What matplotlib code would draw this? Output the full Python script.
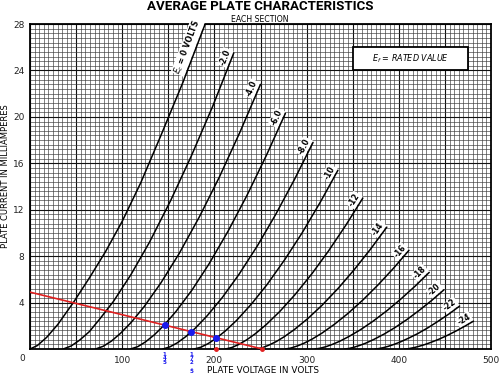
import matplotlib
matplotlib.use("Agg")
import matplotlib.pyplot as plt
from matplotlib.ticker import MultipleLocator, FuncFormatter
from matplotlib.patches import Rectangle
import numpy as np

# ---- data (plate volts, plate mA) ----
grid_labels = ["$E_c$ = 0 VOLTS", "-2.0", "-4.0", "-6.0", "-8.0", "-10", "-12",
               "-14", "-16", "-18", "-20", "-22", "-24"]

v_ec0 = [0, 8, 18, 30, 47, 65, 82, 100, 120, 142, 166, 190]
i_ec0 = [0, 0.3, 1.0, 2.1, 4.0, 6.2, 8.4, 11.0, 14.3, 18.4, 23.0, 28.0]

v_m2 = [36, 44.6, 53.9, 64.4, 75.8, 90.5, 109.4, 129.6, 152.6, 174.8, 198.1, 221]
i_m2 = [0, 0.26, 0.77, 1.5, 2.6, 4.1, 6.4, 9.2, 12.8, 16.6, 20.9, 25.5]

v_m4 = [71, 79.3, 88.3, 98.4, 109.6, 123.8, 142.0, 161.6, 183.8, 205.3, 227.8, 250]
i_m4 = [0, 0.23, 0.68, 1.37, 2.28, 3.65, 5.7, 8.2, 11.4, 14.8, 18.7, 22.8]

v_m6 = [109, 116.8, 125.2, 134.8, 145.2, 158.5, 175.7, 194.0, 214.8, 235.1, 256.2, 277]
i_m6 = [0, 0.2, 0.61, 1.22, 2.03, 3.25, 5.08, 7.31, 10.15, 13.2, 16.65, 20.3]

v_m8 = [144, 151.6, 159.7, 169.0, 179.1, 192.0, 208.7, 226.5, 246.7, 266.3, 286.8, 307]
i_m8 = [0, 0.18, 0.53, 1.07, 1.78, 2.85, 4.45, 6.41, 8.9, 11.57, 14.6, 17.8]

v_m10 = [178, 185.2, 193.1, 201.9, 211.6, 224.0, 239.9, 257.0, 276.3, 295.1, 314.7, 334]
i_m10 = [0, 0.15, 0.46, 0.92, 1.54, 2.46, 3.85, 5.54, 7.7, 10.0, 12.63, 15.4]

v_m12 = [212, 218.9, 226.4, 234.8, 244.1, 255.9, 271.1, 287.4, 305.9, 323.8, 342.5, 361]
i_m12 = [0, 0.13, 0.39, 0.78, 1.3, 2.08, 3.25, 4.68, 6.5, 8.45, 10.66, 13.0]

v_m14 = [245, 251.6, 258.7, 266.8, 275.6, 286.8, 301.4, 316.9, 334.5, 351.6, 369.4, 387]
i_m14 = [0, 0.1, 0.32, 0.63, 1.05, 1.68, 2.63, 3.78, 5.25, 6.83, 8.61, 10.5]

v_m16 = [277, 283.2, 289.9, 297.5, 305.9, 316.5, 330.2, 344.8, 361.4, 377.6, 394.4, 411]
i_m16 = [0, 0.09, 0.26, 0.51, 0.85, 1.36, 2.13, 3.06, 4.25, 5.53, 6.97, 8.5]

v_m18 = [309, 314.8, 321.0, 328.0, 335.7, 345.5, 358.2, 371.8, 387.1, 402.0, 417.6, 433]
i_m18 = [0, 0.07, 0.2, 0.4, 0.66, 1.06, 1.65, 2.38, 3.3, 4.29, 5.41, 6.6]

v_m20 = [341, 346.0, 351.4, 357.6, 364.3, 372.8, 383.9, 395.7, 409.0, 422.0, 435.6, 449]
i_m20 = [0, 0.05, 0.15, 0.31, 0.51, 0.82, 1.28, 1.84, 2.55, 3.32, 4.18, 5.1]

v_m22 = [374, 378.3, 382.9, 388.1, 393.8, 401.1, 410.5, 420.6, 432.0, 443.0, 454.6, 466]
i_m22 = [0, 0.04, 0.11, 0.22, 0.37, 0.59, 0.93, 1.33, 1.85, 2.41, 3.03, 3.7]

v_m24 = [406, 409.5, 413.2, 417.5, 422.2, 428.1, 435.8, 444.0, 453.3, 462.3, 471.7, 481]
i_m24 = [0, 0.02, 0.07, 0.14, 0.24, 0.38, 0.6, 0.86, 1.2, 1.56, 1.97, 2.4]

curves_v = [v_ec0, v_m2, v_m4, v_m6, v_m8, v_m10, v_m12, v_m14, v_m16, v_m18, v_m20, v_m22, v_m24]
curves_i = [i_ec0, i_m2, i_m4, i_m6, i_m8, i_m10, i_m12, i_m14, i_m16, i_m18, i_m20, i_m22, i_m24]

load_v = [0, 252]
load_i = [4.9, 0]

op_v = [146, 175, 202]
op_i = [2.06, 1.46, 0.94]
op_labels = ["1\n4\n5", "1\n7\n2\n.\n5"]

x_ticks = [100, 200, 300, 400, 500]
y_ticks = [4, 8, 12, 16, 20, 24, 28]

# ---- figure ----
fig = plt.figure(figsize=(5, 3.75), dpi=100)
ax = fig.add_axes([0.06, 0.0693, 0.922, 0.8667])
ax.set_xlim(0, 500)
ax.set_ylim(0, 28)

ax.xaxis.set_major_locator(MultipleLocator(50))
ax.xaxis.set_minor_locator(MultipleLocator(5))
ax.yaxis.set_major_locator(MultipleLocator(4))
ax.yaxis.set_minor_locator(MultipleLocator(0.4))
ax.xaxis.set_major_formatter(FuncFormatter(
    lambda v, p: f"{int(v)}" if int(round(v)) in x_ticks else ""))
ax.yaxis.set_major_formatter(FuncFormatter(
    lambda v, p: f"{int(v)}" if int(round(v)) in y_ticks else ""))
ax.tick_params(which="both", length=0)
ax.tick_params(axis="x", pad=5, labelsize=6.5, colors="#222222")
ax.tick_params(axis="y", pad=4, labelsize=6.5, colors="#222222")
ax.grid(which="minor", color="#3a3a3a", lw=0.45)
ax.grid(which="major", color="#111111", lw=0.8)
ax.set_axisbelow(True)
for s in ax.spines.values():
    s.set_linewidth(1.3)
    s.set_color("black")

# curves
for v, i in zip(curves_v, curves_i):
    ax.plot(v, i, color="black", lw=1.1, zorder=4, solid_capstyle="round")

fig.canvas.draw()
for v, i, lab in zip(curves_v, curves_i, grid_labels):
    p1 = ax.transData.transform((v[-2], i[-2]))
    p2 = ax.transData.transform((v[-1], i[-1]))
    ang = np.degrees(np.arctan2(p2[1] - p1[1], p2[0] - p1[0]))
    ax.annotate(lab, xy=(v[-1], i[-1]), xytext=(-1, 1), textcoords="offset points",
                rotation=ang, rotation_mode="anchor", ha="right", va="bottom",
                fontsize=5.5, fontweight="bold", zorder=3,
                bbox=dict(boxstyle="square,pad=0.12", fc="white", ec="none"))

# load line and operating points
ax.plot(load_v, load_i, color="#e02020", lw=1.2, zorder=5)
ax.plot([load_v[1], 202], [0, 0], ls="none", marker="o", ms=2.5, color="#e02020",
        clip_on=False, zorder=6)
ax.plot(op_v, op_i, ls="none", marker="o", ms=4, color="#1a1aee", zorder=6)
trans = ax.get_xaxis_transform()
for xv, lab in zip(op_v[:2], op_labels):
    ax.text(xv, -0.008, lab, transform=trans, ha="center", va="top", fontsize=4,
            fontweight="bold", color="#1a1aee", linespacing=0.85)

# corner zero
ax.text(-0.017, -0.03, "0", transform=ax.transAxes, ha="center", va="center",
        fontsize=6.5, color="#222222")

# info box
ax.add_patch(Rectangle((0.7007, 0.858), 0.2493, 0.071, transform=ax.transAxes,
                       fc="white", ec="black", lw=1.3, zorder=5))
ax.text(0.8255, 0.893, "$E_f$ = RATED VALUE", transform=ax.transAxes, ha="center",
        va="center", fontsize=5.8, style="italic", zorder=6)

# titles and axis labels
fig.text(0.52, 0.982, "AVERAGE PLATE CHARACTERISTICS", ha="center", va="center",
         fontsize=9.6, fontweight="bold", family=["Roboto", "DejaVu Sans"])
fig.text(0.52, 0.947, "EACH SECTION", ha="center", va="center", fontsize=5.6)
fig.text(0.526, 0.013, "PLATE VOLTAGE IN VOLTS", ha="center", va="center", fontsize=6.4)
fig.text(0.012, 0.53, "PLATE CURRENT IN MILLIAMPERES", ha="center", va="center",
         fontsize=6.0, rotation=90)

fig.savefig("out.png", dpi=100)
